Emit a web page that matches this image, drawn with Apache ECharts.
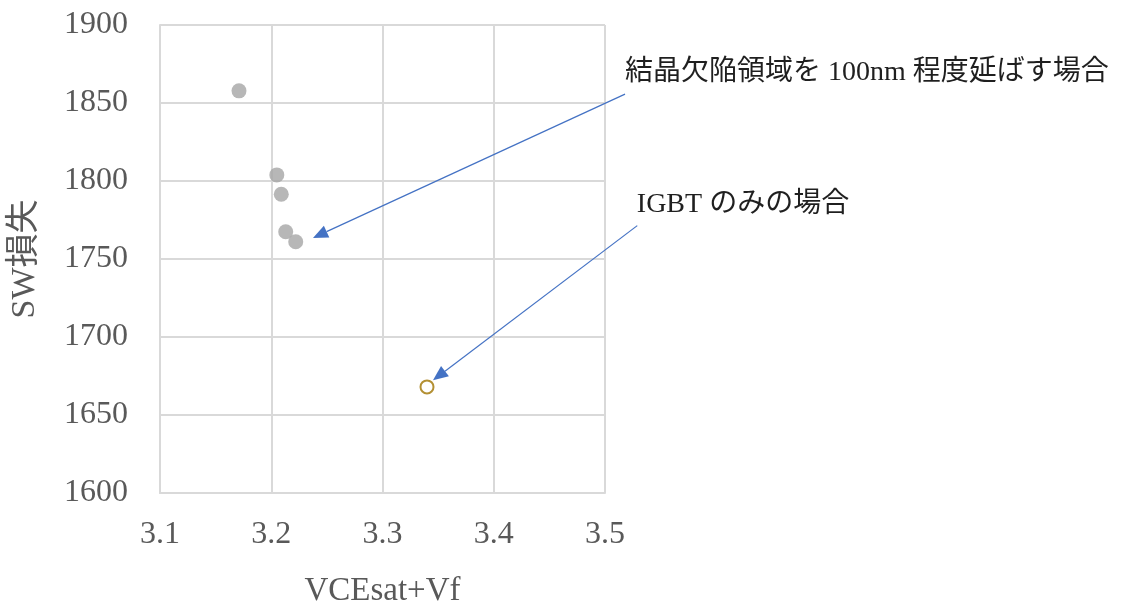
<!DOCTYPE html>
<html>
<head>
<meta charset="utf-8">
<script src="https://cdn.jsdelivr.net/npm/echarts@6/dist/echarts.min.js"></script>
<style>
  html, body { margin: 0; padding: 0; background: #ffffff; }
  #chart { width: 1126px; height: 605px; }
</style>
</head>
<body>
<div id="chart"></div>
<script>
// Defect-region variants: VCEsat+Vf vs switching loss
const defectX = [3.171, 3.205, 3.209, 3.213, 3.222];
const defectY = [1857.8, 1803.9, 1791.5, 1767.5, 1761.1];
// IGBT alone
const igbtX = [3.340];
const igbtY = [1668.0];

const xTicks = { min: 3.1, max: 3.5, step: 0.1 };
const yTicks = { min: 1600, max: 1900, step: 50 };

const xTitle = 'VCEsat+Vf';
const yTitle = 'SW損失';

// Callouts: text, text anchor (left/middle, data coords), arrow tail and tip (data coords)
const calloutTexts = ['結晶欠陥領域を 100nm 程度延ばす場合', 'IGBT のみの場合'];
const calloutAnchors = [[3.518, 1869.4], [3.5286, 1784.7]];
const arrowTails = [[3.518, 1855.7], [3.529, 1771.4]];
const arrowTips = [[3.2375, 1763.5], [3.3454, 1672.3]];

const serif = '"Liberation Serif", "Noto Sans CJK JP", serif';
const textColor = '#595959';
const arrowColor = '#4472C4';

const chart = echarts.init(document.getElementById('chart'));

const pairs = (xs, ys) => xs.map((x, i) => [x, ys[i]]);

chart.setOption({
  animation: false,
  backgroundColor: '#ffffff',
  grid: {
    left: 160, right: 521, top: 25, bottom: 112,
    containLabel: false, outerBoundsMode: 'none'
  },
  xAxis: {
    type: 'value',
    min: xTicks.min, max: xTicks.max, interval: xTicks.step,
    name: xTitle, nameLocation: 'middle', nameGap: 82,
    nameTextStyle: { fontFamily: serif, fontSize: 33, color: textColor },
    axisLine: { show: true, lineStyle: { color: '#D9D9D9', width: 2 } },
    axisTick: { show: false },
    axisLabel: {
      margin: 26, fontFamily: serif, fontSize: 32, color: textColor,
      formatter: v => v.toFixed(1)
    },
    splitLine: { show: true, lineStyle: { color: '#D9D9D9', width: 2 } }
  },
  yAxis: {
    type: 'value',
    min: yTicks.min, max: yTicks.max, interval: yTicks.step,
    name: yTitle, nameLocation: 'middle', nameGap: 118, nameRotate: 90,
    nameTextStyle: { fontFamily: serif, fontSize: 34, color: textColor },
    axisLine: { show: true, lineStyle: { color: '#D9D9D9', width: 2 } },
    axisTick: { show: false },
    axisLabel: {
      margin: 32, fontFamily: serif, fontSize: 32, color: textColor,
      formatter: v => String(v)
    },
    splitLine: { show: true, lineStyle: { color: '#D9D9D9', width: 2 } }
  },
  series: [
    {
      name: 'defect',
      type: 'scatter',
      data: pairs(defectX, defectY),
      symbol: 'circle',
      symbolSize: 15,
      itemStyle: { color: '#A5A5A5' },
      z: 3
    },
    {
      name: 'igbt',
      type: 'scatter',
      data: pairs(igbtX, igbtY),
      symbol: 'circle',
      symbolSize: 13,
      itemStyle: { color: '#ffffff', borderColor: '#A07400', borderWidth: 2 },
      z: 3
    }
  ]
});

// Callout texts and arrows, positioned from data coordinates
function arrowGraphics(tail, tip) {
  const a = chart.convertToPixel({ gridIndex: 0 }, tail);
  const b = chart.convertToPixel({ gridIndex: 0 }, tip);
  const dx = b[0] - a[0], dy = b[1] - a[1];
  const len = Math.hypot(dx, dy);
  const ux = dx / len, uy = dy / len;
  const headLen = 15, headHalf = 6.5;
  const bx = b[0] - ux * headLen, by = b[1] - uy * headLen;
  const nx = -uy, ny = ux;
  return [
    {
      type: 'line', z: 10, silent: true,
      shape: { x1: a[0], y1: a[1], x2: bx, y2: by },
      style: { stroke: arrowColor, lineWidth: 1.2 }
    },
    {
      type: 'polygon', z: 10, silent: true,
      shape: { points: [b, [bx + nx * headHalf, by + ny * headHalf], [bx - nx * headHalf, by - ny * headHalf]] },
      style: { fill: arrowColor }
    }
  ];
}

const graphics = [];
calloutTexts.forEach((t, i) => {
  const p = chart.convertToPixel({ gridIndex: 0 }, calloutAnchors[i]);
  graphics.push({
    type: 'text', z: 10, silent: true,
    x: p[0], y: p[1],
    style: { text: t, font: '28px ' + serif, fill: '#1F1F1F', align: 'left', verticalAlign: 'middle' }
  });
  graphics.push(...arrowGraphics(arrowTails[i], arrowTips[i]));
});
chart.setOption({ graphic: graphics });
</script>
</body>
</html>
